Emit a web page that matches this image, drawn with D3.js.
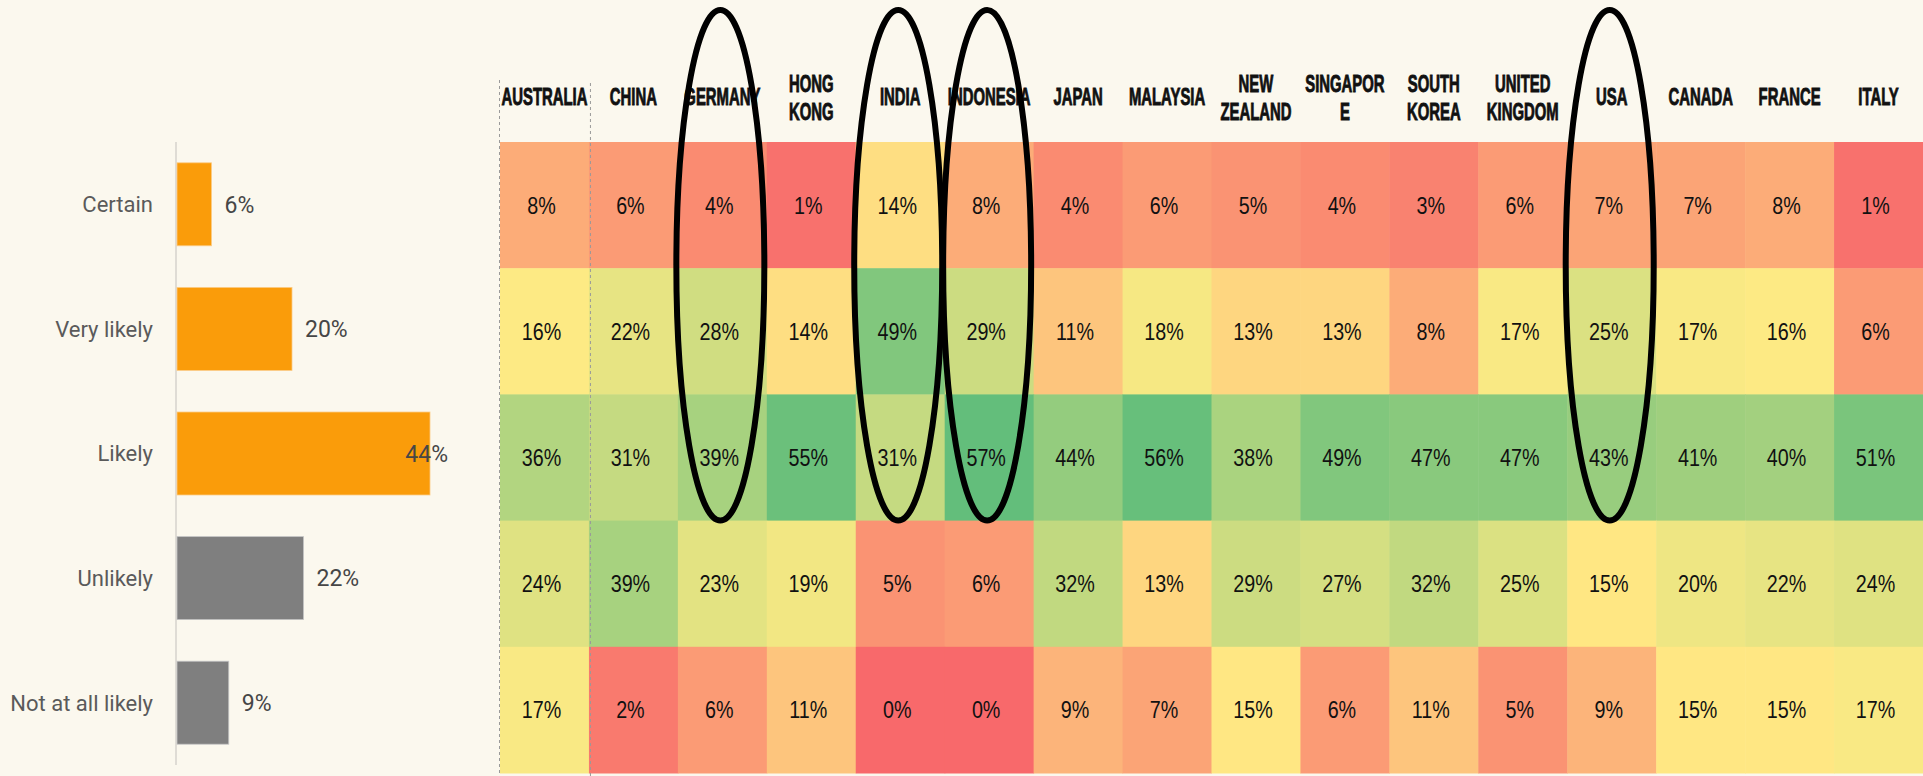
<!DOCTYPE html>
<html>
<head>
<meta charset="utf-8">
<script src="https://cdn.jsdelivr.net/npm/d3@7"></script>
<style>
  html, body { margin: 0; padding: 0; background: #FBF8EE; }
  svg { display: block; }
</style>
</head>
<body>
<svg id="chart" width="1923" height="776"></svg>
<script>
// Answer levels (rows) and overall share for each
const levels = ["Certain", "Very likely", "Likely", "Unlikely", "Not at all likely"];
const overall = [6, 20, 44, 22, 9];

// Countries (columns); header text uses "|" for a line break
const countries = ["AUSTRALIA", "CHINA", "GERMANY", "HONG KONG", "INDIA", "INDONESIA", "JAPAN",
  "MALAYSIA", "NEW ZEALAND", "SINGAPORE", "SOUTH KOREA", "UNITED KINGDOM", "USA", "CANADA", "FRANCE", "ITALY"];
const headerLabels = ["AUSTRALIA", "CHINA", "GERMANY", "HONG|KONG", "INDIA", "INDONESIA", "JAPAN",
  "MALAYSIA", "NEW|ZEALAND", "SINGAPOR|E", "SOUTH|KOREA", "UNITED|KINGDOM", "USA", "CANADA", "FRANCE", "ITALY"];

// Share per country, one array per answer level
const certain      = [8, 6, 4, 1, 14, 8, 4, 6, 5, 4, 3, 6, 7, 7, 8, 1];
const veryLikely   = [16, 22, 28, 14, 49, 29, 11, 18, 13, 13, 8, 17, 25, 17, 16, 6];
const likely       = [36, 31, 39, 55, 31, 57, 44, 56, 38, 49, 47, 47, 43, 41, 40, 51];
const unlikely     = [24, 39, 23, 19, 5, 6, 32, 13, 29, 27, 32, 25, 15, 20, 22, 24];
const notAtAll     = [17, 2, 6, 11, 0, 0, 9, 7, 15, 6, 11, 5, 9, 15, 15, 17];

// Countries ringed for emphasis
const highlighted = ["GERMANY", "INDIA", "INDONESIA", "USA"];

const positiveLevels = ["Certain", "Very likely", "Likely"];

const rows = [certain, veryLikely, likely, unlikely, notAtAll];
const cells = [];
rows.forEach((vals, r) => vals.forEach((v, c) => cells.push({ level: levels[r], country: countries[c], value: v })));

const svg = d3.select("#chart");
svg.append("rect").attr("width", 1923).attr("height", 776).attr("fill", "#FBF8EE");

const labelFont = "Roboto, 'Noto Sans', sans-serif";
// Condensed look is produced by squeezing Liberation Sans horizontally
const gridFont = "'Liberation Sans', Arial, sans-serif";

// ---------- Overall bar chart ----------
const yBar = d3.scaleBand().domain(levels).range([142, 765]).paddingInner(0.334).paddingOuter(0.167);
const xBar = d3.scaleLinear().domain([0, 50]).range([177, 177 + 287.5]);
const paneRight = 448;

const left = svg.append("g");
left.append("line")
  .attr("x1", 176).attr("x2", 176).attr("y1", 142).attr("y2", 765)
  .attr("stroke", "#d6d3cc").attr("stroke-width", 1.5);

left.selectAll("rect.bar").data(levels).join("rect")
  .attr("class", "bar")
  .attr("x", xBar(0))
  .attr("y", d => yBar(d))
  .attr("width", (d, i) => xBar(overall[i]) - xBar(0))
  .attr("height", yBar.bandwidth())
  .attr("fill", d => positiveLevels.includes(d) ? "#FA9C0A" : "#7F7F7F")
  .attr("stroke", d => positiveLevels.includes(d) ? "#FCCB85" : "#C4C4C4")
  .attr("stroke-width", 0.8);

left.selectAll("text.cat").data(levels).join("text")
  .attr("class", "cat")
  .attr("x", 153)
  .attr("y", d => yBar(d) + yBar.bandwidth() / 2)
  .attr("dy", "0.36em")
  .attr("text-anchor", "end")
  .attr("font-family", labelFont)
  .attr("font-size", 22)
  .attr("fill", "#5a5a5a")
  .text(d => d);

left.selectAll("text.val").data(levels).join("text")
  .attr("class", "val")
  .attr("y", d => yBar(d) + yBar.bandwidth() / 2)
  .attr("dy", "0.36em")
  .attr("font-family", labelFont)
  .attr("font-size", 23)
  .attr("fill", "#464646")
  .text((d, i) => overall[i] + "%")
  .each(function (d, i) {
    const w = this.getComputedTextLength();
    let x = xBar(overall[i]) + 13;
    if (x + w > paneRight) x = paneRight - w;
    d3.select(this).attr("x", x);
  });

// ---------- Country heatmap ----------
const xCol = d3.scaleBand().domain(countries).range([500, 1923]);
const yRow = d3.scaleBand().domain(levels).range([142, 773]);

const allValues = cells.map(d => d.value);
const color = d3.scaleLinear()
  .domain([d3.min(allValues), d3.median(allValues), d3.max(allValues)])
  .range(["#F8696B", "#FFEB84", "#63BE7B"])
  .interpolate(d3.interpolateRgb);

const heat = svg.append("g");
heat.selectAll("rect.cell").data(cells).join("rect")
  .attr("class", "cell")
  .attr("x", d => xCol(d.country))
  .attr("y", d => yRow(d.level))
  .attr("width", xCol.bandwidth() + 0.5)
  .attr("height", yRow.bandwidth() + 0.5)
  .attr("fill", d => color(d.value));

heat.selectAll("text.cellval").data(cells).join("text")
  .attr("class", "cellval")
  .attr("transform", d => `translate(${xCol(d.country) + xCol.bandwidth() / 2 - 3},${yRow(d.level) + yRow.bandwidth() / 2}) scale(0.84,1)`)
  .attr("dy", "0.36em")
  .attr("text-anchor", "middle")
  .attr("font-family", gridFont)
  .attr("font-size", 23.5)
  .attr("fill", "#111")
  .text(d => d.value + "%");

// Column headers
const headers = svg.append("g");
countries.forEach((c, i) => {
  const lines = headerLabels[i].split("|");
  const cx = xCol(c) + xCol.bandwidth() / 2;
  const baselines = lines.length === 1 ? [105] : [92, 120];
  const t = headers.append("text")
    .attr("transform", `translate(${cx},0) scale(0.62,1)`)
    .attr("text-anchor", "middle")
    .attr("font-family", gridFont)
    .attr("font-weight", "bold")
    .attr("font-size", 24)
    .attr("fill", "#111")
    .attr("stroke", "#111")
    .attr("stroke-width", 0.9);
  lines.forEach((ln, k) => t.append("tspan").attr("x", 0).attr("y", baselines[k]).text(ln));
});

// Dashed guide lines
const guides = svg.append("g")
  .attr("stroke", "#9a9a9a").attr("stroke-width", 1).attr("stroke-dasharray", "3,3");
guides.append("line").attr("x1", 499.5).attr("x2", 499.5).attr("y1", 80).attr("y2", 776);
guides.append("line")
  .attr("x1", xCol(countries[1]) + 1.5).attr("x2", xCol(countries[1]) + 1.5)
  .attr("y1", 83).attr("y2", 776);

// Rings around highlighted countries
const ringTop = 10;
const ringBottom = yRow("Likely") + yRow.bandwidth();
svg.append("g").selectAll("ellipse").data(highlighted).join("ellipse")
  .attr("cx", d => xCol(d) + xCol.bandwidth() / 2 - 2)
  .attr("cy", (ringTop + ringBottom) / 2)
  .attr("rx", 44)
  .attr("ry", (ringBottom - ringTop) / 2)
  .attr("fill", "none")
  .attr("stroke", "#000")
  .attr("stroke-width", 6);
</script>
</body>
</html>
